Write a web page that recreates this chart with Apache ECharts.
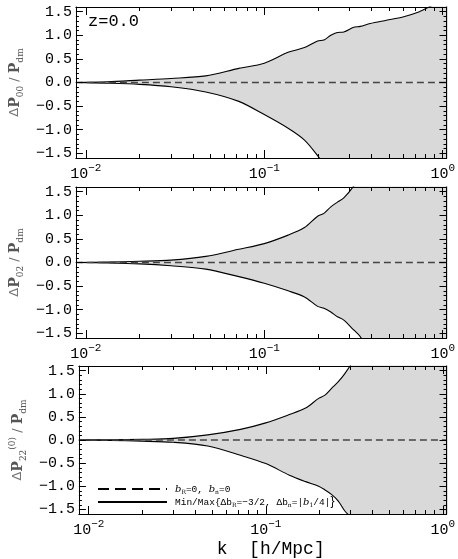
<!DOCTYPE html>
<html>
<head>
<meta charset="utf-8">
<script src="https://cdn.jsdelivr.net/npm/echarts@6/dist/echarts.min.js"></script>
<style>
html,body{margin:0;padding:0;background:#fff}
#chart{width:458px;height:559px}
</style>
</head>
<body>
<div id="chart"></div>
<script>
//k values (h/Mpc)
var kVals = [0.0088, 0.0132, 0.02, 0.03, 0.047, 0.072, 0.1, 0.136, 0.168, 0.199, 0.216, 0.236, 0.257, 0.279, 0.317, 0.345, 0.392, 0.484, 0.598, 0.74, 0.858, 1.08];
//P00 min/max
var p00Max = [0, 0.015, 0.05, 0.085, 0.14, 0.30, 0.41, 0.64, 0.74, 0.88, 0.90, 1.00, 1.06, 1.07, 1.17, 1.19, 1.25, 1.32, 1.39, 1.50, 1.62, 1.80];
var p00Min = [0, -0.015, -0.04, -0.09, -0.20, -0.40, -0.68, -0.97, -1.22, -1.55, -1.75, -1.95, -2.2, -2.4, -2.7, -2.9, -3.2, -3.6, -4.0, -4.4, -4.7, -5.0];
//P02 min/max
var p02Max = [0, 0.01, 0.025, 0.05, 0.13, 0.28, 0.40, 0.58, 0.74, 0.98, 1.04, 1.18, 1.28, 1.37, 1.62, 1.85, 2.1, 2.5, 2.9, 3.3, 3.6, 4.0];
var p02Min = [0, -0.01, -0.03, -0.07, -0.14, -0.30, -0.44, -0.60, -0.73, -0.93, -0.97, -1.05, -1.15, -1.22, -1.43, -1.57, -1.9, -2.3, -2.7, -3.1, -3.4, -3.6];
//P22(0) min/max
var p22Max = [0, 0.005, 0.015, 0.035, 0.11, 0.23, 0.37, 0.55, 0.69, 0.90, 0.97, 1.12, 1.26, 1.43, 1.75, 2.0, 2.3, 2.7, 3.1, 3.5, 3.8, 4.2];
var p22Min = [0, -0.01, -0.025, -0.05, -0.13, -0.33, -0.51, -0.76, -0.90, -1.00, -1.08, -1.18, -1.32, -1.53, -1.75, -2.0, -2.3, -2.7, -3.1, -3.5, -3.8, -4.2];
//刻度
var kMin = 0.0088, kMax = 1.05;
var xMajor = [0.01, 0.1, 1];
var xMinor = [0.02, 0.03, 0.04, 0.05, 0.06, 0.07, 0.08, 0.09, 0.2, 0.3, 0.4, 0.5, 0.6, 0.7, 0.8, 0.9];
var yMajor = [-1.5, -1.0, -0.5, 0.0, 0.5, 1.0, 1.5];
var yMinor = [-1.6, -1.4, -1.3, -1.2, -1.1, -0.9, -0.8, -0.7, -0.6, -0.4, -0.3, -0.2, -0.1, 0.1, 0.2, 0.3, 0.4, 0.6, 0.7, 0.8, 0.9, 1.1, 1.2, 1.3, 1.4, 1.6];

var panels = [
    {max: p00Max, min: p00Min, name: '{d|\u0394}{p|P}{sub|00}{n| / }{p|P}{sub|dm}'},
    {max: p02Max, min: p02Min, name: '{d|\u0394}{p|P}{sub|02}{n| / }{p|P}{sub|dm}'},
    {max: p22Max, min: p22Min, name: '{d|\u0394}{p|P}{sub|22}{sup|(0)}{n| / }{p|P}{sub|dm}'}
];
var gridTop = [7, 187, 366], gridH = 151;
var mono = 'Liberation Mono';
var black = '#000';

function pairs(ys) {
    var arr = [];
    for (var i = 0; i < kVals.length; i++) arr.push([kVals[i], ys[i]]);
    return arr;
}
function fmtK(v) {
    var e = Math.round(Math.log(v) / Math.LN10);
    return '{b|10}{s|' + String(e).replace('-', '\u2212') + '}';
}
function fmtY(v) {
    return v.toFixed(1).replace('-', '\u2212');
}

var grids = [], xAxis = [], yAxis = [], series = [];
panels.forEach(function (pn, gi) {
    grids.push({left: 72, right: 10, top: gridTop[gi], height: gridH});
    var last = gi == panels.length - 1;
    var xb = {type: 'log', logBase: 10, min: kMin, max: kMax, gridIndex: gi, z: 10, splitLine: {show: false}};
    //bottom major
    xAxis.push(Object.assign({}, xb, {
        position: 'bottom',
        axisLine: {show: true, onZero: false, lineStyle: {color: black, width: 1}},
        axisTick: {show: true, inside: true, length: 8, customValues: xMajor, lineStyle: {color: black}},
        axisLabel: {show: true, customValues: xMajor, formatter: fmtK, margin: 5,
            rich: {
                b: {fontFamily: mono, fontSize: 15, color: black, lineHeight: 22},
                s: {fontFamily: mono, fontSize: 11, color: black, lineHeight: 12, verticalAlign: 'top'}
            }},
        name: last ? 'k  [h/Mpc]' : '',
        nameLocation: 'middle',
        nameGap: 26,
        nameTextStyle: {fontFamily: mono, fontSize: 18, color: black, padding: [0, 0, 0, 16]}
    }));
    //bottom minor
    xAxis.push(Object.assign({}, xb, {
        position: 'bottom',
        axisLine: {show: false, onZero: false},
        axisTick: {show: true, inside: true, length: 4, customValues: xMinor, lineStyle: {color: black}},
        axisLabel: {show: false}
    }));
    //top major
    xAxis.push(Object.assign({}, xb, {
        position: 'top',
        axisLine: {show: true, onZero: false, lineStyle: {color: black, width: 1}},
        axisTick: {show: true, inside: true, length: 8, customValues: xMajor, lineStyle: {color: black}},
        axisLabel: {show: false}
    }));
    //top minor
    xAxis.push(Object.assign({}, xb, {
        position: 'top',
        axisLine: {show: false, onZero: false},
        axisTick: {show: true, inside: true, length: 4, customValues: xMinor, lineStyle: {color: black}},
        axisLabel: {show: false}
    }));

    var yb = {type: 'value', min: -1.6, max: 1.6, gridIndex: gi, z: 10, splitLine: {show: false}};
    yAxis.push(Object.assign({}, yb, {
        position: 'left',
        axisLine: {show: true, onZero: false, lineStyle: {color: black, width: 1}},
        axisTick: {show: true, inside: true, length: 7, customValues: yMajor, lineStyle: {color: black}},
        axisLabel: {show: true, customValues: yMajor, formatter: fmtY, margin: 4,
            fontFamily: mono, fontSize: 15, color: black},
        name: pn.name,
        nameLocation: 'middle',
        nameRotate: 90,
        nameGap: 42,
        nameTextStyle: {
            rich: {
                d: {fontFamily: 'DejaVu Sans', fontSize: 13, color: '#777', lineHeight: 20},
                p: {fontFamily: 'DejaVu Serif', fontWeight: 'bold', fontSize: 14, color: '#555', lineHeight: 20},
                n: {fontFamily: 'DejaVu Sans', fontSize: 13, color: '#666', lineHeight: 20},
                sub: {fontFamily: 'DejaVu Serif', fontSize: 9, color: '#555', lineHeight: 11, verticalAlign: 'bottom'},
                sup: {fontFamily: 'DejaVu Serif', fontSize: 9, color: '#555', lineHeight: 11, verticalAlign: 'top'}
            }
        }
    }));
    yAxis.push(Object.assign({}, yb, {
        position: 'left',
        axisLine: {show: false, onZero: false},
        axisTick: {show: true, inside: true, length: 3, customValues: yMinor, lineStyle: {color: black}},
        axisLabel: {show: false}
    }));
    yAxis.push(Object.assign({}, yb, {
        position: 'right',
        axisLine: {show: true, onZero: false, lineStyle: {color: black, width: 1}},
        axisTick: {show: true, inside: true, length: 7, customValues: yMajor, lineStyle: {color: black}},
        axisLabel: {show: false}
    }));
    yAxis.push(Object.assign({}, yb, {
        position: 'right',
        axisLine: {show: false, onZero: false},
        axisTick: {show: true, inside: true, length: 3, customValues: yMinor, lineStyle: {color: black}},
        axisLabel: {show: false}
    }));

    var xi = gi * 4, yi = gi * 4;
    [pn.max, pn.min].forEach(function (ys) {
        series.push({
            type: 'line',
            xAxisIndex: xi,
            yAxisIndex: yi,
            data: pairs(ys),
            showSymbol: false,
            smooth: 0.3,
            lineStyle: {color: black, width: 1.1},
            areaStyle: {color: '#d9d9d9', opacity: 1},
            z: 2,
            silent: true
        });
    });
    //b=0 参考线
    series.push({
        type: 'line',
        xAxisIndex: xi,
        yAxisIndex: yi,
        data: [[kMin, 0], [kMax, 0]],
        showSymbol: false,
        lineStyle: {color: '#444', width: 1.3, type: [7, 4]},
        z: 3,
        silent: true
    });
});

var chart = echarts.init(document.getElementById('chart'));
chart.setOption({
    animation: false,
    backgroundColor: '#fff',
    grid: grids,
    xAxis: xAxis,
    yAxis: yAxis,
    series: series,
    graphic: [
        {type: 'text', left: 88, top: 13, z: 20,
            style: {text: 'z=0.0', fontFamily: mono, fontSize: 17, fill: black}},
        {type: 'line', z: 20, shape: {x1: 98, y1: 489, x2: 167, y2: 489},
            style: {stroke: black, lineWidth: 2, lineDash: [11, 6]}},
        {type: 'line', z: 20, shape: {x1: 98, y1: 502, x2: 167, y2: 502},
            style: {stroke: black, lineWidth: 2}},
        {type: 'text', x: 175, y: 489, z: 20,
            style: {
                text: '{i|b}{s|R}{t|=0, }{i|b}{s|n}{t|=0}',
                verticalAlign: 'middle',
                rich: {
                    i: {fontFamily: 'DejaVu Serif', fontStyle: 'italic', fontSize: 10, lineHeight: 12},
                    t: {fontFamily: mono, fontSize: 9.5, lineHeight: 12},
                    s: {fontFamily: 'DejaVu Serif', fontSize: 6, lineHeight: 7, verticalAlign: 'bottom'}
                }
            }},
        {type: 'text', x: 175, y: 502, z: 20,
            style: {
                text: '{t|Min/Max{\u0394b}{s|R}{t|=\u22123/2, \u0394b}{s|n}{t|=|}{i|b}{s|1}{t|/4|}}',
                verticalAlign: 'middle',
                rich: {
                    i: {fontFamily: 'DejaVu Serif', fontStyle: 'italic', fontSize: 10, lineHeight: 12},
                    t: {fontFamily: mono, fontSize: 9.5, lineHeight: 12},
                    s: {fontFamily: 'DejaVu Serif', fontSize: 6, lineHeight: 7, verticalAlign: 'bottom'}
                }
            }}
    ]
});
</script>
</body>
</html>
